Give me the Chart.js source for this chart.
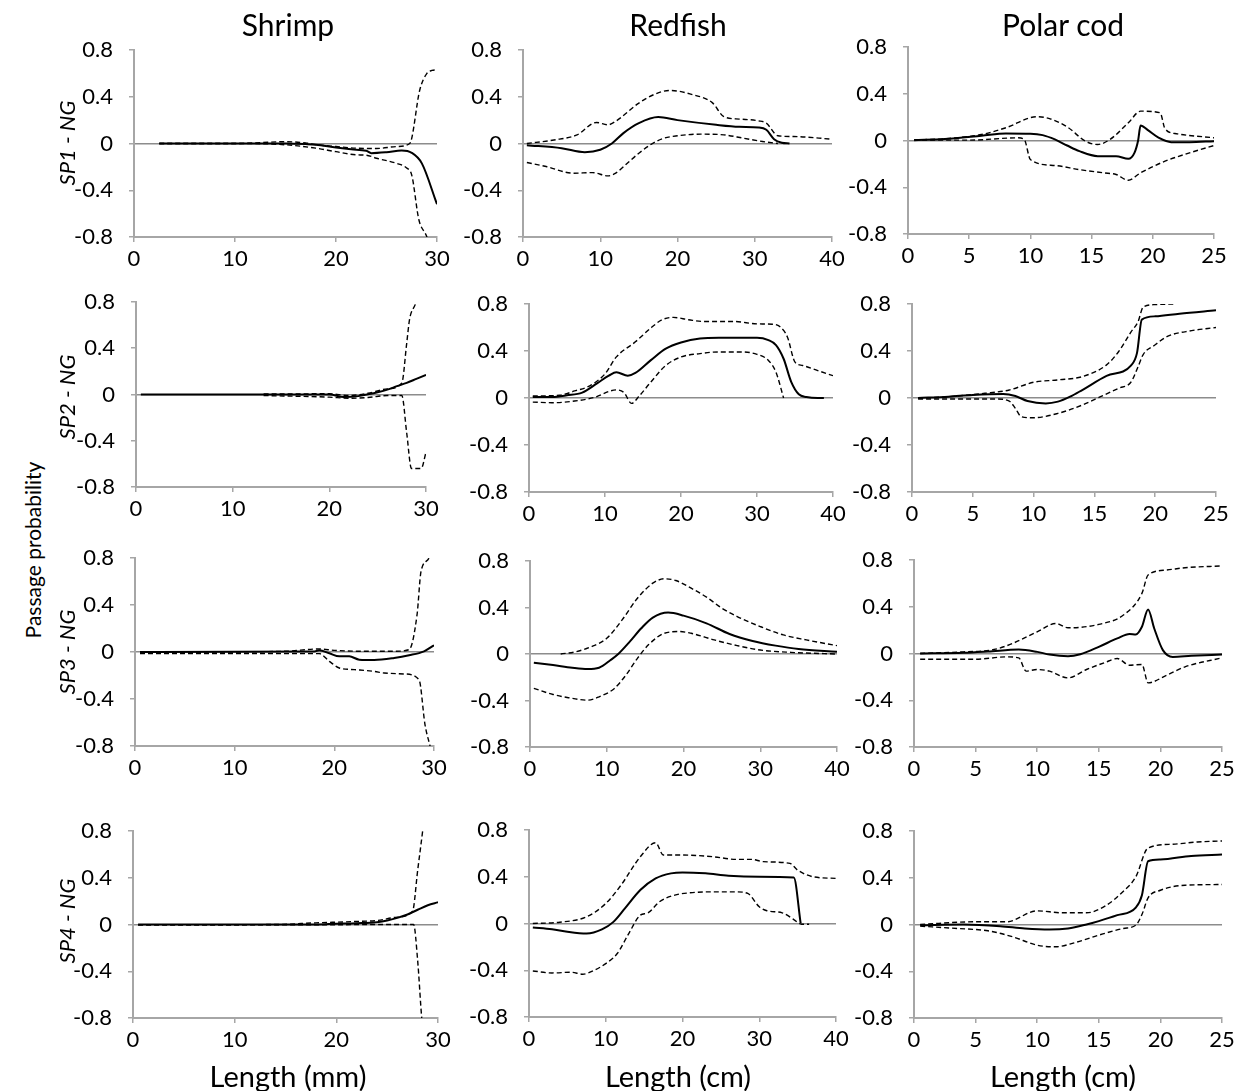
<!DOCTYPE html>
<html>
<head>
<meta charset="utf-8">
<script src="https://cdn.jsdelivr.net/npm/chart.js@4.4.0/dist/chart.umd.min.js"></script>
<style>
  body { margin: 0; background: #fff; width: 1239px; height: 1091px; position: relative; overflow: hidden; font-family: Lato, sans-serif; color: #000; }
  .panel { position: absolute; }
  .txt { position: absolute; white-space: nowrap; transform: translate(-50%, -50%); }
  .rot { transform: translate(-50%, -50%) rotate(-90deg); }
</style>
</head>
<body>
<script>
// --- data: [length, passage probability] pairs ---
const colTitles = ['Shrimp', 'Redfish', 'Polar cod'];
const rowTitles = ['SP1 - NG', 'SP2 - NG', 'SP3 - NG', 'SP4 - NG'];
const xTitles = ['Length (mm)', 'Length (cm)', 'Length (cm)'];
const xMax = [30, 40, 25];
const xStep = [10, 10, 5];
const yTicks = [-0.8, -0.4, 0, 0.4, 0.8];

// SP1
const sh1Mean = [[2.5,0],[10,0],[15,0],[17,-0.005],[18,-0.01],[20,-0.035],[21.5,-0.05],[23,-0.062],[23.5,-0.083],[25,-0.075],[26.5,-0.06],[27.5,-0.08],[28.5,-0.17],[30,-0.52]];
const sh1Hi = [[2.5,0],[10,0],[15,0.015],[17,0.005],[18,-0.01],[20,-0.026],[22,-0.04],[24,-0.043],[26,-0.026],[27.3,0],[28.3,0.46],[29,0.6],[29.5,0.625],[30,0.63]];
const sh1Lo = [[2.5,0],[10,0],[15,-0.011],[18,-0.04],[20,-0.07],[22,-0.097],[23,-0.1],[24,-0.126],[26,-0.17],[27,-0.21],[27.5,-0.27],[28.2,-0.65],[29,-0.8],[29.5,-0.95]];

const rf1Mean = [[0.5,-0.014],[5,-0.04],[8,-0.074],[10,-0.054],[11.5,0],[13,0.089],[15,0.174],[17.5,0.226],[20,0.2],[25,0.16],[28,0.143],[30.5,0.137],[31.5,0.117],[32.5,0.037],[33.5,0.006],[34.5,0]];
const rf1Hi = [[0.5,0],[4,0.03],[7,0.074],[9.5,0.18],[11,0.16],[12,0.19],[15,0.346],[17,0.42],[19,0.454],[22,0.417],[24.5,0.35],[26,0.23],[28,0.209],[30.5,0.194],[31.5,0.174],[33,0.066],[35,0.06],[40,0.037]];
const rf1Lo = [[0.5,-0.163],[3,-0.197],[6.5,-0.254],[9,-0.249],[11,-0.277],[12,-0.254],[13.5,-0.169],[15,-0.083],[16.5,-0.011],[18,0.04],[20,0.066],[23,0.08],[26,0.074],[28.5,0.046],[31,0.017],[33,0]];

const pc1Mean = [[0.5,0.003],[3,0.012],[6,0.04],[8,0.06],[10,0.058],[11,0.046],[12,0.009],[13,-0.043],[14,-0.091],[15.5,-0.134],[17,-0.134],[18,-0.157],[18.5,-0.106],[18.8,0],[19,0.129],[19.6,0.089],[20.5,0.023],[21.5,-0.014],[23,-0.014],[25,-0.006]];
const pc1Hi = [[0.5,0.005],[3,0.015],[6,0.051],[8,0.109],[10.5,0.203],[11.5,0.189],[13,0.117],[14.5,-0.006],[15.5,-0.034],[16.5,0.009],[18,0.151],[19,0.251],[20.6,0.237],[21,0.1],[22,0.057],[25,0.023]];
const pc1Lo = [[0.5,0.005],[5,0.003],[9,0.023],[9.5,0.009],[10,-0.163],[12,-0.214],[14,-0.249],[16,-0.277],[17,-0.291],[18,-0.34],[19,-0.277],[21,-0.177],[23,-0.106],[25,-0.043]];

// SP2
const sh2Mean = [[0.5,0],[20,0],[21.5,-0.022],[23,-0.014],[24,0.002],[25,0.02],[26,0.042],[27,0.072],[28,0.1],[29,0.135],[30,0.17]];
const sh2Hi = [[13.2,0.005],[20,0.006],[22,-0.009],[24,0.011],[26,0.049],[27.5,0.1],[28,0.44],[28.3,0.65],[29,0.81],[29.3,0.95]];
const sh2Lo = [[13.2,-0.009],[20,-0.023],[22,-0.032],[24,-0.026],[26,-0.009],[27.5,-0.009],[28,-0.33],[28.5,-0.64],[29.5,-0.64],[30,-0.5]];

const rf2Mean = [[0.5,0.009],[3,0.009],[5,0.023],[7,0.046],[9,0.127],[10.5,0.19],[11.5,0.219],[13,0.19],[14,0.213],[16,0.32],[18,0.42],[20,0.473],[22.5,0.507],[25,0.513],[30,0.513],[31.5,0.493],[32.5,0.45],[33.5,0.334],[34.5,0.138],[35.5,0.032],[36.5,0.009],[38,0],[38.8,0]];
const rf2Hi = [[0.5,0.017],[4,0.023],[6,0.06],[8,0.104],[10,0.205],[11.5,0.35],[14,0.478],[16,0.594],[17.5,0.666],[19,0.686],[21,0.666],[23,0.651],[27,0.651],[30,0.631],[32,0.628],[33,0.608],[34,0.52],[35,0.305],[36,0.277],[38,0.233],[40,0.19]];
const rf2Lo = [[0.5,-0.035],[3,-0.04],[6,-0.026],[8.5,0.003],[11.5,0.069],[12.5,0.046],[13.5,-0.046],[14.5,0.017],[16,0.133],[18,0.277],[20,0.349],[22.5,0.378],[25,0.392],[28,0.392],[30,0.372],[31.5,0.32],[32.5,0.219],[33.5,0]];

const pc2Mean = [[0.5,0],[3,0.011],[5,0.026],[7.5,0.034],[8.5,0.017],[9.5,-0.026],[11,-0.046],[12,-0.031],[13,0.011],[14,0.068],[16,0.188],[18,0.276],[18.5,0.382],[18.9,0.667],[20,0.695],[22,0.718],[25,0.746]];
const pc2Hi = [[0.5,-0.003],[3,0.011],[6,0.04],[8,0.068],[10,0.134],[12,0.154],[14,0.182],[16,0.282],[17,0.396],[18,0.561],[18.6,0.652],[19,0.772],[20,0.795],[21.5,0.8]];
const pc2Lo = [[0.5,-0.009],[7,-0.009],[8,-0.026],[8.5,-0.088],[9,-0.16],[10,-0.168],[12,-0.131],[14,-0.06],[15.5,0.011],[17,0.083],[18,0.134],[18.6,0.268],[19,0.368],[20,0.453],[21,0.524],[23,0.573],[25,0.6]];

// SP3
const sh3Mean = [[0.5,0],[18,0.005],[18.5,0.014],[19.5,-0.011],[20.5,-0.037],[21.5,-0.037],[22.5,-0.065],[24,-0.068],[26,-0.051],[27.5,-0.028],[29,0.006],[30,0.057]];
const sh3Hi = [[0.5,-0.003],[15,0.006],[18.5,0.026],[20,0.014],[23,0.006],[26,0.006],[27.5,0.02],[28.3,0.318],[28.7,0.687],[29.5,0.8],[29.8,0.9]];
const sh3Lo = [[0.5,-0.014],[18.5,-0.014],[19.5,-0.08],[20.5,-0.136],[22,-0.15],[24,-0.165],[25,-0.179],[27,-0.187],[28.5,-0.236],[29.1,-0.62],[29.6,-0.8],[30,-0.95]];

const rf3Mean = [[0.5,-0.075],[3,-0.095],[5.5,-0.118],[7.5,-0.129],[9,-0.118],[10.5,-0.052],[11.5,0],[13,0.106],[14.5,0.221],[16,0.313],[18,0.356],[20,0.33],[23,0.264],[26,0.172],[29,0.112],[32,0.072],[35,0.043],[40,0.02]];
const rf3Hi = [[4,0],[6,0.02],[8,0.063],[10,0.135],[12,0.293],[14,0.48],[16,0.609],[17.5,0.647],[19,0.632],[21,0.566],[23,0.489],[25,0.394],[27,0.322],[30,0.236],[33,0.164],[36,0.121],[40,0.072]];
const rf3Lo = [[0.5,-0.296],[3,-0.348],[5,-0.376],[7.5,-0.397],[9,-0.368],[11,-0.296],[12.5,-0.181],[14,-0.037],[15.5,0.083],[17.5,0.178],[19.5,0.193],[21,0.178],[24,0.121],[27,0.072],[30,0.034],[34,0.014],[40,0]];

const pc3Mean = [[0.5,0],[4,0.006],[6,0.017],[8.5,0.034],[10,0.014],[11,-0.009],[12.5,-0.023],[13.5,-0.006],[15,0.057],[16.5,0.129],[17.5,0.166],[18,0.163],[18.5,0.229],[19,0.377],[19.5,0.214],[20.2,0.029],[21,-0.029],[22.5,-0.02],[25,-0.009]];
const pc3Hi = [[0.5,0],[4,0.014],[6.5,0.034],[8,0.086],[10,0.186],[11.5,0.257],[12.5,0.22],[15,0.249],[17,0.329],[18.5,0.514],[19,0.671],[20.5,0.714],[22,0.734],[25,0.749]];
const pc3Lo = [[0.5,-0.049],[5,-0.049],[7.5,-0.029],[8.5,-0.037],[9.1,-0.151],[10,-0.137],[11,-0.151],[12.5,-0.209],[14,-0.137],[15.5,-0.077],[16.5,-0.043],[17.5,-0.1],[18.5,-0.094],[19,-0.251],[20.5,-0.186],[22,-0.114],[25,-0.037]];

// SP4
const sh4Mean = [[0.5,0],[18,0],[20,0.006],[22,0.011],[24,0.02],[25,0.034],[26,0.057],[27,0.086],[28,0.126],[29,0.165],[30,0.19]];
const sh4Hi = [[0.5,-0.003],[14,0],[18,0.014],[20,0.02],[22,0.026],[24,0.034],[26,0.063],[27.5,0.114],[28,0.463],[28.5,0.806],[28.7,0.95]];
const sh4Lo = [[0.5,-0.003],[17,-0.003],[25,0],[27.6,0],[28,-0.309],[28.4,-0.8],[28.6,-0.95]];

const rf4Mean = [[0.5,-0.034],[3,-0.049],[5,-0.071],[7.5,-0.086],[9.5,-0.051],[11,0.014],[12.5,0.129],[14.5,0.286],[16.5,0.386],[18.5,0.429],[20,0.437],[23,0.429],[26,0.409],[30,0.4],[34.5,0.394],[35.4,0]];
const rf4Hi = [[0.5,0],[4,0.011],[7.5,0.057],[10,0.171],[12,0.329],[14.5,0.571],[16.5,0.691],[17.5,0.586],[20,0.586],[24,0.571],[27,0.549],[29,0.549],[30.5,0.529],[34,0.514],[35,0.457],[37,0.4],[40,0.386]];
const rf4Lo = [[0.5,-0.406],[3,-0.423],[5.5,-0.417],[7,-0.434],[8.5,-0.4],[10,-0.343],[11.5,-0.257],[13,-0.086],[14.5,0.071],[15.5,0.091],[17,0.186],[19,0.243],[21,0.263],[24,0.271],[27,0.271],[28.5,0.257],[30,0.143],[31,0.109],[33,0.091],[34.5,0.034],[35.5,-0.006],[36.5,-0.006]];

const pc4Mean = [[0.5,-0.006],[4,0],[7,-0.014],[9,-0.034],[11,-0.043],[12.5,-0.034],[14,0],[15,0.029],[16.5,0.08],[18,0.145],[18.5,0.251],[19,0.541],[20,0.556],[22.5,0.587],[25,0.598]];
const pc4Hi = [[0.5,0],[5,0.023],[7.5,0.023],[10,0.117],[12,0.1],[14,0.1],[15.5,0.157],[17,0.285],[18,0.407],[19,0.655],[21,0.687],[23,0.706],[25,0.715]];
const pc4Lo = [[0.5,-0.014],[3.5,-0.034],[6,-0.054],[8,-0.105],[10,-0.177],[11.5,-0.191],[13,-0.157],[15,-0.091],[17,-0.034],[18,-0.006],[18.5,0.085],[19,0.228],[20,0.293],[22,0.336],[25,0.342]];

// panel grid (row by row) and where each plot area sits on the page: [left, top, right, bottom]
const panels = [
  { col: 0, mean: sh1Mean, hi: sh1Hi, lo: sh1Lo, rect: [134, 50, 437, 237] },
  { col: 1, mean: rf1Mean, hi: rf1Hi, lo: rf1Lo, rect: [523, 50, 832, 237] },
  { col: 2, mean: pc1Mean, hi: pc1Hi, lo: pc1Lo, rect: [908, 47, 1214, 234] },
  { col: 0, mean: sh2Mean, hi: sh2Hi, lo: sh2Lo, rect: [136, 302, 426, 487] },
  { col: 1, mean: rf2Mean, hi: rf2Hi, lo: rf2Lo, rect: [529, 304, 833, 492] },
  { col: 2, mean: pc2Mean, hi: pc2Hi, lo: pc2Lo, rect: [912, 304, 1216, 492] },
  { col: 0, mean: sh3Mean, hi: sh3Hi, lo: sh3Lo, rect: [135, 558, 434, 746] },
  { col: 1, mean: rf3Mean, hi: rf3Hi, lo: rf3Lo, rect: [530, 561, 837, 747] },
  { col: 2, mean: pc3Mean, hi: pc3Hi, lo: pc3Lo, rect: [914, 560, 1222, 747] },
  { col: 0, mean: sh4Mean, hi: sh4Hi, lo: sh4Lo, rect: [133, 831, 438, 1018] },
  { col: 1, mean: rf4Mean, hi: rf4Hi, lo: rf4Lo, rect: [529, 830, 836, 1017] },
  { col: 2, mean: pc4Mean, hi: pc4Hi, lo: pc4Lo, rect: [914, 831, 1222, 1018] }
];

// y tick padding also pads the top of the chart area, so PT has to cover label half-height + padding
const YW = 72, XH = 45, PT = 34, PR = 22;
const AXIS = '#a6a6a6';
const TICK_FONT = { family: 'Lato', size: 22 };

function toPts(pairs) { return pairs.map(p => ({ x: p[0], y: p[1] })); }

function lineDs(pairs, dashed) {
  return {
    data: toPts(pairs),
    borderColor: '#000',
    borderWidth: dashed ? 1.4 : 2,
    borderDash: dashed ? [5, 3] : [],
    pointRadius: 0,
    fill: false,
    cubicInterpolationMode: 'monotone'
  };
}

function addText(text, x, y, size, extra) {
  const d = document.createElement('div');
  d.className = 'txt' + (extra && extra.rot ? ' rot' : '');
  d.textContent = text;
  d.style.left = x + 'px';
  d.style.top = y + 'px';
  d.style.fontSize = size + 'px';
  if (extra && extra.italic) d.style.fontStyle = 'italic';
  document.body.appendChild(d);
}

function makePanel(p) {
  const [L, T, R, B] = p.rect;
  const w = R - L + YW + PR, h = B - T + PT + XH;
  const div = document.createElement('div');
  div.className = 'panel';
  div.style.left = (L - YW) + 'px';
  div.style.top = (T - PT) + 'px';
  const cv = document.createElement('canvas');
  cv.width = w; cv.height = h;
  div.appendChild(cv);
  document.body.appendChild(div);

  new Chart(cv, {
    type: 'line',
    data: { datasets: [lineDs(p.lo, true), lineDs(p.hi, true), lineDs(p.mean, false)] },
    options: {
      responsive: false,
      animation: false,
      layout: { padding: { top: PT, right: PR, left: 0, bottom: 0 } },
      plugins: { legend: { display: false }, tooltip: { enabled: false } },
      scales: {
        x: {
          type: 'linear', min: 0, max: xMax[p.col],
          afterFit: s => { s.height = XH; },
          border: { color: AXIS, width: 2 },
          grid: { drawOnChartArea: false, tickColor: AXIS, tickLength: 5, lineWidth: 1.5 },
          ticks: { stepSize: xStep[p.col], color: '#000', font: TICK_FONT, padding: 4, maxRotation: 0 }
        },
        y: {
          min: yTicks[0], max: yTicks[yTicks.length - 1],
          afterFit: s => { s.width = YW; },
          afterBuildTicks: s => { s.ticks = yTicks.map(v => ({ value: v })); },
          border: { color: AXIS, width: 2 },
          grid: {
            color: c => (c.tick && Math.abs(c.tick.value) < 1e-9) ? '#8c8c8c' : 'rgba(0,0,0,0)',
            lineWidth: 1.5, tickColor: AXIS, tickLength: 5
          },
          ticks: {
            color: '#000', font: TICK_FONT, padding: 16,
            callback: v => Math.abs(v) < 1e-9 ? '0' : v.toFixed(1)
          }
        }
      }
    }
  });
}

panels.forEach(makePanel);

// titles and axis labels
const colCenters = [288, 678, 1063];
colTitles.forEach((t, i) => addText(t, colCenters[i], 24, 30));
const rowCenters = [143, 397, 652, 921];
rowTitles.forEach((t, i) => addText(t, 66, rowCenters[i], 22, { rot: true, italic: true }));
addText('Passage probability', 32, 550, 21, { rot: true });
xTitles.forEach((t, i) => addText(t, colCenters[i], 1075, 29));
</script>
</body>
</html>
